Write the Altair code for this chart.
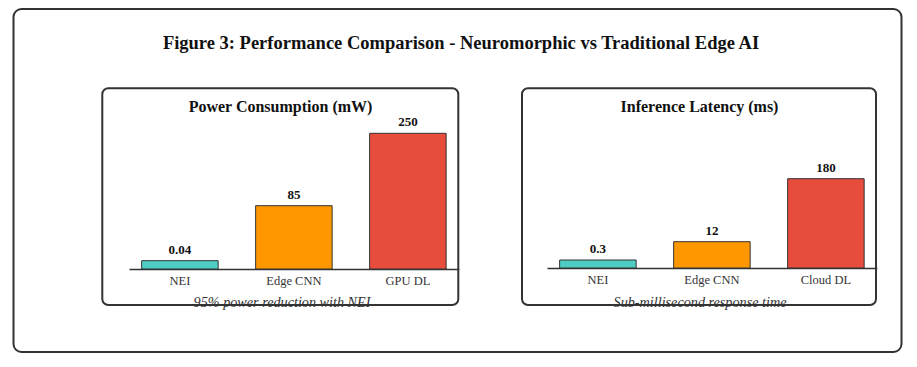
import altair as alt
import pandas as pd

SERIF = "Liberation Serif"

MAIN_TITLE = "Figure 3: Performance Comparison - Neuromorphic vs Traditional Edge AI"

power_title = "Power Consumption (mW)"
power_models = ["NEI", "Edge CNN", "GPU DL"]
power_values = [0.04, 85, 250]
power_labels = ["0.04", "85", "250"]
power_caption = "95% power reduction with NEI"

lat_title = "Inference Latency (ms)"
lat_models = ["NEI", "Edge CNN", "Cloud DL"]
lat_values = [0.3, 12, 180]
lat_labels = ["0.3", "12", "180"]
lat_caption = "Sub-millisecond response time"

bar_colors = ["#4ecdc4", "#ff9800", "#e74c3c"]

W, H = 900, 342


def box(x1, x2, y1, y2, radius, width):
    return alt.Chart(pd.DataFrame({"k": [0]})).mark_rect(
        fill="transparent", stroke="#333333", strokeWidth=width, cornerRadius=radius
    ).encode(x=alt.value(x1), x2=alt.value(x2), y=alt.value(y1), y2=alt.value(y2))


def label(text, x, y, size, weight="normal", style="normal", color="#111111"):
    return alt.Chart(pd.DataFrame({"t": [text]})).mark_text(
        font=SERIF, fontSize=size, fontWeight=weight, fontStyle=style, color=color,
        align="center", baseline="middle"
    ).encode(text="t:N", x=alt.value(x), y=alt.value(y))


def panel(models, values, labels, x_range, y_range, axis_offset):
    df = pd.DataFrame({"model": models, "value": values, "label": labels})
    x = alt.X(
        "model:N", sort=models,
        scale=alt.Scale(range=x_range, paddingInner=0.329, paddingOuter=0.111),
        axis=alt.Axis(orient="bottom", title=None, labelAngle=0, ticks=False,
                      labelPadding=5, offset=axis_offset, domainColor="#333333",
                      domainWidth=1.5, labelFont=SERIF, labelFontSize=12.5,
                      labelColor="#333333", grid=False),
    )
    y = alt.Y("value:Q",
              scale=alt.Scale(domain=[0] + values, range=y_range, nice=False, zero=False),
              axis=None)
    bars = alt.Chart(df).mark_bar(stroke="#333333", strokeWidth=1).encode(
        x=x, y=y,
        color=alt.Color("model:N", scale=alt.Scale(domain=models, range=bar_colors), legend=None),
    )
    txt = alt.Chart(df).mark_text(
        baseline="alphabetic", dy=-7, font=SERIF, fontSize=13, fontWeight="bold", color="#111111"
    ).encode(x=x, y=y, text="label:N")
    return alt.layer(bars, txt)


p1 = panel(power_models, power_values, power_labels, [121, 450.8],
           [253, 244.7, 189.7, 117.3], 253 - H)
p2 = panel(lat_models, lat_values, lat_labels, [539, 868.8],
           [252, 244, 225.7, 162.7], 252 - H)

chart = alt.layer(
    box(5.5, 893.5, -7, 336, 8, 2),
    box(94.3, 450.3, 72.3, 289, 6, 2),
    box(514, 868, 72.3, 289, 6, 2),
    p1,
    p2,
    label(MAIN_TITLE, 453, 27, 18.5, weight="bold"),
    label(power_title, 272.5, 91, 16, weight="bold"),
    label(lat_title, 691.5, 91, 16, weight="bold"),
    label(power_caption, 274, 286.5, 14.2, style="italic", color="#333333"),
    label(lat_caption, 692, 287, 14.2, style="italic", color="#333333"),
).resolve_scale(
    x="independent", y="independent", color="independent"
).resolve_axis(
    x="independent", y="independent"
).properties(
    width=W, height=H,
    autosize=alt.AutoSizeParams(type="none"),
    padding={"left": 0, "top": 8, "right": 0, "bottom": 0},
    background="white",
).configure_view(stroke=None)

chart.save("out.html", embed_options={"renderer": "svg", "actions": False})
